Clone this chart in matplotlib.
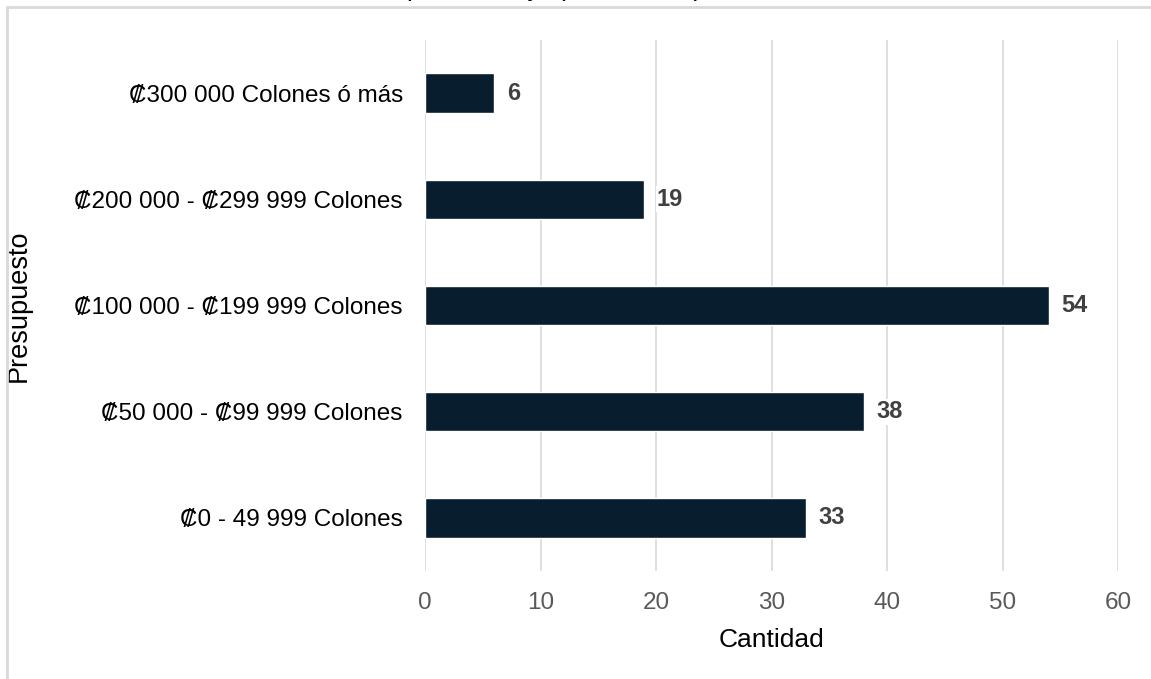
import matplotlib
matplotlib.use("Agg")
import matplotlib.pyplot as plt
from matplotlib.patches import Rectangle

plt.rcParams['font.family'] = ['Liberation Sans', 'DejaVu Sans']

# Data (bottom to top)
categories = [
    "₡0 - 49 999 Colones",
    "₡50 000 - ₡99 999 Colones",
    "₡100 000 - ₡199 999 Colones",
    "₡200 000 - ₡299 999 Colones",
    "₡300 000 Colones ó más",
]
counts = [33, 38, 54, 19, 6]
x_ticks = [0, 10, 20, 30, 40, 50, 60]

fig = plt.figure(figsize=(11.51, 6.79), dpi=100)
ax = fig.add_axes([425 / 1151, 1 - 571 / 679, (1118 - 425) / 1151, (571 - 40) / 679])

# Light gray chart-area border (top and left visible)
fig.patches.append(Rectangle((7 / 1151, -0.05), 1.1, 1 - 7 / 679 + 0.05,
                             transform=fig.transFigure, fill=False,
                             edgecolor='#D9D9D9', linewidth=2))

# Title, almost entirely cut off at the top of the image
fig.text(0.482, 1 + 4 / 679, "Presupuesto estimado\npara el viaje (en colones)",
         ha='center', va='baseline', fontsize=19, color='black')

bars = ax.barh(range(len(categories)), counts, height=0.37,
               color='#081E2E', edgecolor='white', linewidth=1, zorder=3)

for i, v in enumerate(counts):
    ax.annotate(str(v), (v, i), xytext=(9, 0), textcoords='offset points',
                ha='left', va='center', fontsize=17, fontweight='bold',
                color='#404040', zorder=4,
                bbox=dict(facecolor='white', edgecolor='none', pad=1))

ax.set_xlim(0, 60)
ax.set_ylim(-0.5, len(categories) - 0.5)
ax.set_xticks(x_ticks)
ax.set_yticks(range(len(categories)))
ax.set_yticklabels(categories, fontsize=17.5, color='black')
ax.tick_params(axis='x', labelsize=17.5, labelcolor='#595959', length=0, pad=15)
ax.tick_params(axis='y', length=0, pad=16)
ax.grid(axis='x', color='#D9D9D9', linewidth=1.2, zorder=0)
ax.set_axisbelow(True)
for s in ax.spines.values():
    s.set_visible(False)

ax.set_xlabel("Cantidad", fontsize=19, labelpad=10)
ax.set_ylabel("Presupuesto", fontsize=19.5)
ax.yaxis.set_label_coords(-(425 - 32) / (1118 - 425), 0.5)

fig.savefig("out.png", dpi=100)
